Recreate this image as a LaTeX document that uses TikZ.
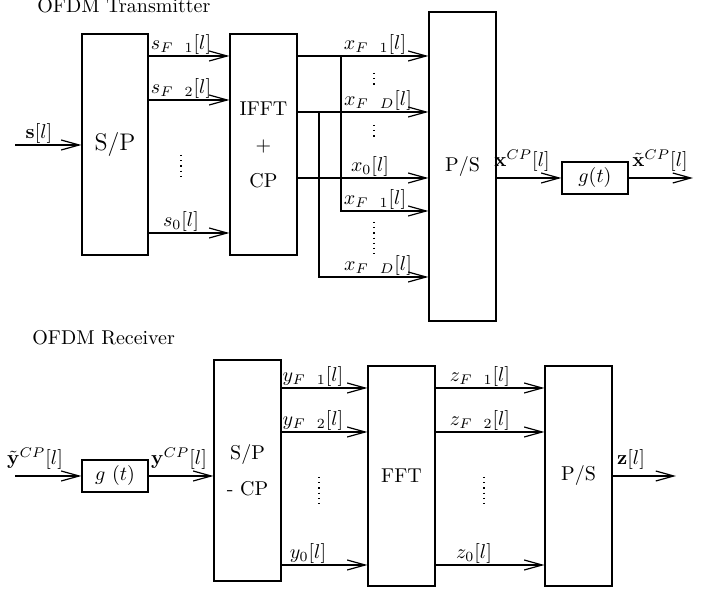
\documentclass[tikz,border=0pt]{standalone}
\usepackage{amsmath}
\usetikzlibrary{arrows.meta,positioning}
\newcommand{\gp}{\hspace{6pt}}

\begin{document}
\begin{tikzpicture}[
    x=0.5pt, y=-0.5pt,
    block/.style={rectangle, draw=black, line width=0.6pt, inner sep=0pt, align=center},
    arrow/.style={-{Straight Barb[length=9pt,width=5pt]}, line width=0.6pt},
    lab/.style={anchor=south, inner sep=0pt, yshift=0.5pt},
    olab/.style={anchor=south, inner sep=0pt, yshift=3pt},
    vdots/.style={dotted, line width=0.6pt}
  ]
  \useasboundingbox (0,0) rectangle (723,592);

  % Titles
  \node (ttx) [anchor=base west, inner sep=0pt] at (37,12.5) {OFDM Transmitter};
  \node (trx) [anchor=base west, inner sep=0pt] at (32,345) {OFDM Receiver};

  % Transmitter blocks
  \node (sp) [block, minimum width=33pt, minimum height=110.5pt, font=\large] at (115,144.5) {S/P};
  \node (ifft) [block, minimum width=33.5pt, minimum height=110.5pt] at (263.5,144.5) {IFFT\\[6pt]+\\[6pt]CP};
  \node (ps) [block, minimum width=33.5pt, minimum height=154.5pt] at (462.5,166.5) {P/S};
  \node (gtx) [block, minimum width=33pt, minimum height=16pt] at (595,178) {$g(t)$};

  % Transmitter levels
  \coordinate (sin) at (15,145);
  \coordinate (s1) at (0,56);
  \coordinate (s2) at (0,100);
  \coordinate (s0) at (0,233);
  \coordinate (xa) at (341,56);
  \coordinate (xb) at (319,112);
  \coordinate (x0) at (0,178);
  \coordinate (xc) at (0,211);
  \coordinate (xd) at (0,277);
  \coordinate (xout) at (693,178);

  % Transmitter arrows
  \draw [arrow] (sin) -- (sp.west |- sin);
  \draw [arrow] (sp.east |- s1) -- (ifft.west |- s1);
  \draw [arrow] (sp.east |- s2) -- (ifft.west |- s2);
  \draw [arrow] (sp.east |- s0) -- (ifft.west |- s0);
  \draw [arrow] (ifft.east |- xa) -- (ps.west |- xa);
  \draw [arrow] (ifft.east |- xb) -- (ps.west |- xb);
  \draw [arrow] (ifft.east |- x0) -- (ps.west |- x0);
  \draw [arrow] (xa) |- (ps.west |- xc);
  \draw [arrow] (xb) |- (ps.west |- xd);
  \draw [arrow] (ps.east |- gtx) -- (gtx.west);
  \draw [arrow] (gtx.east) -- (xout);

  % Transmitter labels
  \node (lsin) [lab] at (39,145) {$\mathbf{s}[l]$};
  \node (ls1) [lab] at (181,56) {$s_{F\gp1}[l]$};
  \node (ls2) [lab] at (181,100) {$s_{F\gp2}[l]$};
  \node (ls0) [lab] at (181,233) {$s_0[l]$};
  \node (lx1) [lab] at (375,56) {$x_{F\gp1}[l]$};
  \node (lxd) [lab] at (378,112) {$x_{F\gp D}[l]$};
  \node (lx0) [lab] at (370,178) {$x_0[l]$};
  \node (lx1b) [lab] at (375,211) {$x_{F\gp1}[l]$};
  \node (lxdb) [lab] at (378,277) {$x_{F\gp D}[l]$};
  \node (lxcp) [olab] at (522,178) {$\mathbf{x}^{CP}[l]$};
  \node (lxt) [olab] at (660,178) {$\tilde{\mathbf{x}}^{CP}[l]$};

  \draw [vdots] (181,155) -- (181,178);
  \draw [vdots] (374,73) -- (374,88);
  \draw [vdots] (374,125) -- (374,138);
  \draw [vdots] (374,222) -- (374,255);

  % Receiver blocks
  \node (grx) [block, minimum width=33pt, minimum height=16pt] at (115,476) {$g~(t)$};
  \node (spcp) [block, minimum width=33.5pt, minimum height=110.5pt] at (247.5,470.5) {S/P\\[6pt]- CP};
  \node (fft) [block, minimum width=33.5pt, minimum height=110pt] at (401.5,476) {FFT};
  \node (psr) [block, minimum width=33.5pt, minimum height=110pt] at (578.5,476) {P/S};

  % Receiver levels
  \coordinate (yin) at (15,476);
  \coordinate (y1) at (0,388);
  \coordinate (y2) at (0,432);
  \coordinate (y0) at (0,565);
  \coordinate (zout) at (676,476);

  % Receiver arrows
  \draw [arrow] (yin) -- (grx.west);
  \draw [arrow] (grx.east) -- (spcp.west |- grx);
  \draw [arrow] (spcp.east |- y1) -- (fft.west |- y1);
  \draw [arrow] (spcp.east |- y2) -- (fft.west |- y2);
  \draw [arrow] (spcp.east |- y0) -- (fft.west |- y0);
  \draw [arrow] (fft.east |- y1) -- (psr.west |- y1);
  \draw [arrow] (fft.east |- y2) -- (psr.west |- y2);
  \draw [arrow] (fft.east |- y0) -- (psr.west |- y0);
  \draw [arrow] (psr.east) -- (zout);

  % Receiver labels
  \node (lyt) [olab] at (35,476) {$\tilde{\mathbf{y}}^{CP}[l]$};
  \node (lycp) [olab] at (179,476) {$\mathbf{y}^{CP}[l]$};
  \node (ly1) [lab] at (313,388) {$y_{F\gp1}[l]$};
  \node (ly2) [lab] at (313,432) {$y_{F\gp2}[l]$};
  \node (ly0) [lab] at (308,565) {$y_0[l]$};
  \node (lz1) [lab] at (480,388) {$z_{F\gp1}[l]$};
  \node (lz2) [lab] at (480,432) {$z_{F\gp2}[l]$};
  \node (lz0) [lab] at (474,565) {$z_0[l]$};
  \node (lz) [olab] at (631,476) {$\mathbf{z}[l]$};

  \draw [vdots] (319,477) -- (319,508);
  \draw [vdots] (484,477) -- (484,508);

\end{tikzpicture}
\end{document}
